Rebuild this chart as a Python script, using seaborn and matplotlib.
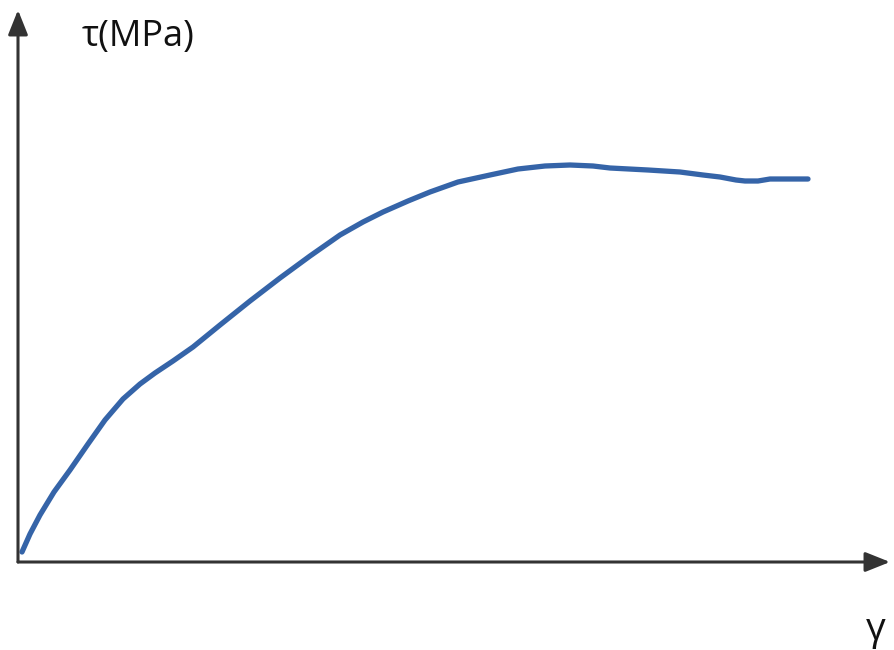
import pandas as pd
import matplotlib.pyplot as plt
import seaborn as sns

# shear strain (arbitrary units) and shear stress
gamma = [4, 12, 22, 36, 52, 70, 87, 105, 122, 137, 155, 175, 202, 232, 262, 292, 322, 345, 365, 390, 412, 440, 472, 500, 527, 552, 575, 592, 630, 662, 685, 702, 718, 727, 740, 752, 770, 790]
tau = [10, 28, 47, 70, 92, 118, 142, 163, 178, 189, 201, 215, 237, 261, 284, 306, 327, 340, 350, 361, 370, 380, 387, 393, 396, 397, 396, 394, 392, 390, 387, 385, 382, 381, 381, 383, 383, 383]

df = pd.DataFrame({'gamma': gamma, 'tau': tau})

sns.set_style('white')
plt.rcParams['font.family'] = ['Open Sans', 'DejaVu Sans']

fig = plt.figure(figsize=(8.94, 6.5), dpi=100)
ax = fig.add_axes([0, 0, 1, 1])
ax.set_xlim(-18, 876)
ax.set_ylim(-88, 562)
ax.axis('off')

sns.lineplot(data=df, x='gamma', y='tau', ax=ax, color='#3564a8', linewidth=3.8)

# axes drawn as arrows
arrow = dict(arrowstyle='-|>,head_length=1.5,head_width=0.6', color='#333333', lw=2.2,
             shrinkA=0, shrinkB=0)
ax.annotate('', xy=(0, 552), xytext=(0, 0), arrowprops=arrow)
ax.annotate('', xy=(872, 0), xytext=(0, 0), arrowprops=arrow)

ax.text(64, 525, 'τ(MPa)', fontsize=26, ha='left', va='center', color='#111111')
ax.text(848, -68, 'γ', fontsize=28, ha='left', va='center', color='#111111')

fig.savefig('out.png', dpi=100)
